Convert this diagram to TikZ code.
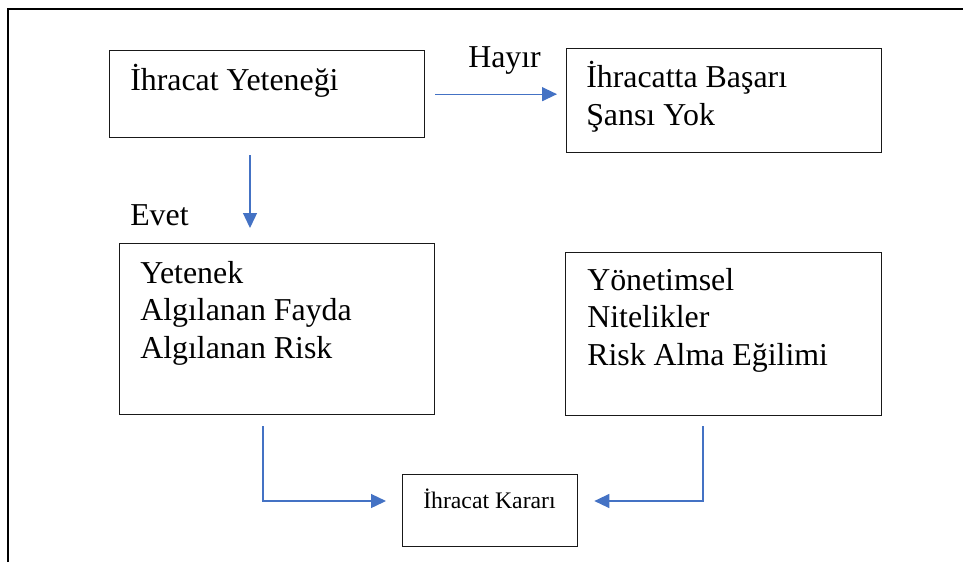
\documentclass[tikz,border=0pt]{standalone}
\usepackage{fontspec}
\setmainfont{Liberation Serif}
\usetikzlibrary{arrows.meta}
\definecolor{flowblue}{HTML}{4472C4}
\begin{document}
\begin{tikzpicture}[x=0.75pt, y=-0.75pt,
  box/.style={draw=black!90, line width=1pt, rectangle, inner sep=0pt, anchor=north west},
  txt/.style={inner sep=0pt, anchor=base west, align=left,
    font=\fontsize{23.9pt}{28pt}\selectfont},
  smalltxt/.style={inner sep=0pt, anchor=base west,
    font=\fontsize{17.8pt}{21pt}\selectfont},
  arr/.style={draw=flowblue, line width=1pt,
    -{Triangle[length=11.25pt, width=10.5pt]}}
]
\useasboundingbox (0,0) rectangle (963,562);

% page frame (top and left edges)
\draw[line width=1.5pt] (8,562) -- (8,9) -- (963,9);

% boxes
\node[box, minimum width=236.25pt, minimum height=65.25pt] (b1) at (109,50) {};
\node[box, minimum width=236.25pt, minimum height=78pt]    (b2) at (566,48) {};
\node[box, minimum width=236.25pt, minimum height=128.25pt] (b3) at (119,243) {};
\node[box, minimum width=237pt,    minimum height=122.25pt] (b4) at (565,252) {};
\node[box, minimum width=131.25pt, minimum height=54pt]    (b5) at (402,474) {};

% texts (multi-line nodes are placed by the baseline of their last line)
\node[txt] (t1) at (130,90) {İhracat Yeteneği};
\node[txt] (t2) at (586,125) {İhracatta Başarı\\Şansı Yok};
\node[txt] (t3) at (140,358) {Yetenek\\Algılanan Fayda\\Algılanan Risk};
\node[txt] (t4) at (587,365) {Yönetimsel\\Nitelikler\\Risk Alma Eğilimi};
\node[smalltxt] (t5) at (423,508) {İhracat Kararı};
\node[txt] (hayir) at (468,67) {Hayır};
\node[txt] (evet) at (130,225) {Evet};

% helper coordinates for connector columns/rows
\coordinate (xd) at (250,0);
\coordinate (jl) at (263,501);
\coordinate (jr) at (703,501);

% connectors
\draw[arr, shorten <=7.5pt, shorten >=6.75pt] (b1.east) -- (b1.east -| b2.west);
\draw[arr, shorten <=12.75pt, shorten >=11.25pt] (b1.south -| xd) -- (b3.north -| xd);
\draw[arr, shorten <=8.25pt, shorten >=12pt] (b3.south -| jl) |- (jl -| b5.west);
\draw[arr, shorten <=7.5pt, shorten >=12pt] (b4.south -| jr) |- (jr -| b5.east);
\end{tikzpicture}
\end{document}
